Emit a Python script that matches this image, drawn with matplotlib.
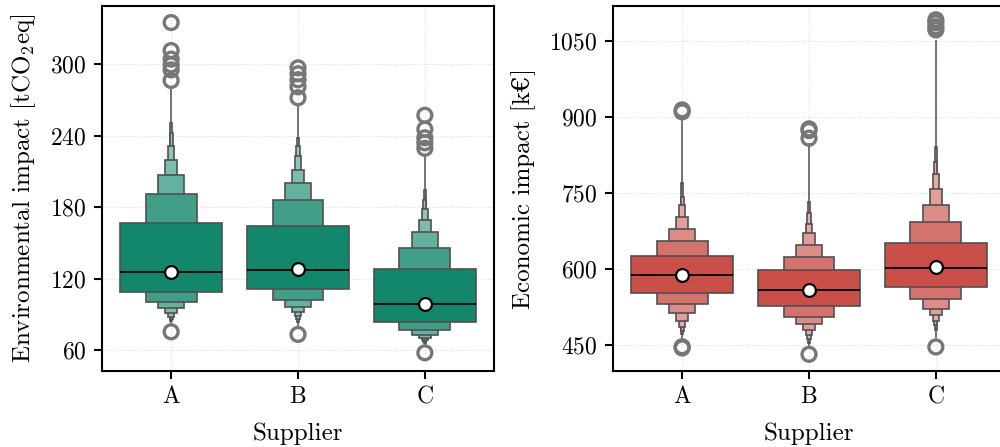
import numpy as np
import matplotlib
matplotlib.use("Agg")
from matplotlib import pyplot as plt
from matplotlib.colors import to_rgb

plt.rcParams["font.family"] = ["cmr10", "DejaVu Serif"]
plt.rcParams["mathtext.fontset"] = "cm"
plt.rcParams["axes.formatter.use_mathtext"] = True

suppliers = ["A", "B", "C"]

# letter-value levels (level 1 = box, then outward)
env_upper = [
    [166.8, 191.1, 207.0, 219.8, 231.5, 242.2, 251.0],
    [163.9, 185.7, 199.9, 211.4, 222.6, 231.0, 238.0],
    [128.2, 145.8, 159.2, 169.5, 178.5, 186.3, 194.7],
]
env_lower = [
    [108.8, 100.6, 95.2, 90.9, 88.2, 86.1, 84.5],
    [111.0, 102.5, 96.5, 92.0, 88.5, 86.3, 84.0],
    [83.8, 77.2, 73.0, 69.8, 68.4, 66.9, 65.6],
]
env_tail_hi = [281.8, 265.9, 224.0]
env_tail_lo = [81.5, 79.9, 63.1]
env_median = [125.5, 127.6, 99.1]
env_mean = [125.8, 128.2, 98.9]
env_outliers = [
    [334.9, 311.4, 304.2, 299.4, 295.2, 286.3, 75.4],
    [296.9, 291.9, 286.9, 281.0, 271.8, 73.2],
    [257.1, 245.4, 238.2, 234.0, 229.4, 57.8],
]

eco_upper = [
    [625.3, 654.9, 678.3, 701.8, 726.1, 742.5, 769.0],
    [596.6, 623.9, 647.4, 670.2, 688.5, 710.3, 732.6],
    [651.0, 692.5, 726.5, 757.3, 786.8, 811.0, 841.3],
]
eco_lower = [
    [552.2, 529.4, 511.7, 497.4, 485.6, 477.7, 471.0],
    [525.9, 504.3, 490.3, 478.1, 468.6, 460.7, 454.3],
    [563.4, 539.3, 521.0, 507.7, 496.8, 488.3, 479.0],
]
eco_tail_hi = [894.0, 848.6, 1052.0]
eco_tail_lo = [463.0, 445.5, 463.2]
eco_median = [587.4, 558.5, 602.2]
eco_mean = [587.4, 558.1, 603.0]
eco_outliers = [
    [913.8, 909.9, 446.0, 443.5],
    [876.3, 873.0, 857.9, 431.0],
    [1091.7, 1085.8, 1077.9, 1071.9, 445.5],
]


def shade(color, frac):
    c = np.array(to_rgb(color))
    return tuple(c + (1 - c) * frac)


def boxen(ax, color, upper, lower, tail_hi, tail_lo, median, mean, outliers):
    mix = [0.0, 0.2, 0.35, 0.45, 0.52, 0.56, 0.6]
    edge = "#505050"
    for i in range(len(suppliers)):
        ax.vlines(i, tail_lo[i], tail_hi[i], color=edge, lw=1.1, zorder=2)
        for k in range(len(upper[i])):
            w = 0.8 * 0.5 ** k
            ax.bar(i, upper[i][k] - lower[i][k], bottom=lower[i][k], width=w,
                   color=shade(color, mix[k]), edgecolor=edge, linewidth=1.2,
                   zorder=3 - k * 0.01)
        ax.hlines(median[i], i - 0.4, i + 0.4, color="black", lw=1.3, zorder=4)
        ax.scatter([i] * len(outliers[i]), outliers[i], s=100, facecolors="none",
                   edgecolors="#777777", linewidths=2.4, zorder=4)
    ax.scatter(range(len(suppliers)), mean, s=85, color="white",
               edgecolors="black", linewidths=1.6, zorder=5)


fig = plt.figure(figsize=(10, 4.47), dpi=100)
ax1 = fig.add_axes([0.102, 0.17, 0.392, 0.8166])
ax2 = fig.add_axes([0.613, 0.17, 0.392, 0.8166])

boxen(ax1, "#12876C", env_upper, env_lower, env_tail_hi, env_tail_lo,
      env_median, env_mean, env_outliers)
boxen(ax2, "#C94F48", eco_upper, eco_lower, eco_tail_hi, eco_tail_lo,
      eco_median, eco_mean, eco_outliers)

ax1.set_ylim(42.5, 348.8)
ax1.set_yticks([60, 120, 180, 240, 300])
ax1.set_ylabel(r"Environmental impact [tCO$_2$eq]", fontsize=18, labelpad=9)
ax2.set_ylim(398, 1119)
ax2.set_yticks([450, 600, 750, 900, 1050])
ax2.set_ylabel("Economic impact [k€]", fontsize=18, labelpad=10)

for ax in (ax1, ax2):
    ax.set_xlim(-0.545, 2.545)
    ax.set_xticks(range(len(suppliers)))
    ax.set_xticklabels(suppliers)
    ax.set_xlabel("Supplier", fontsize=18, labelpad=10)
    ax.tick_params(labelsize=17, length=6, width=1.5, pad=5)
    ax.grid(True, ls=":", color="#dddddd", lw=0.8)
    ax.set_axisbelow(True)
    for s in ax.spines.values():
        s.set_linewidth(1.5)

fig.savefig("out.png", dpi=100)
